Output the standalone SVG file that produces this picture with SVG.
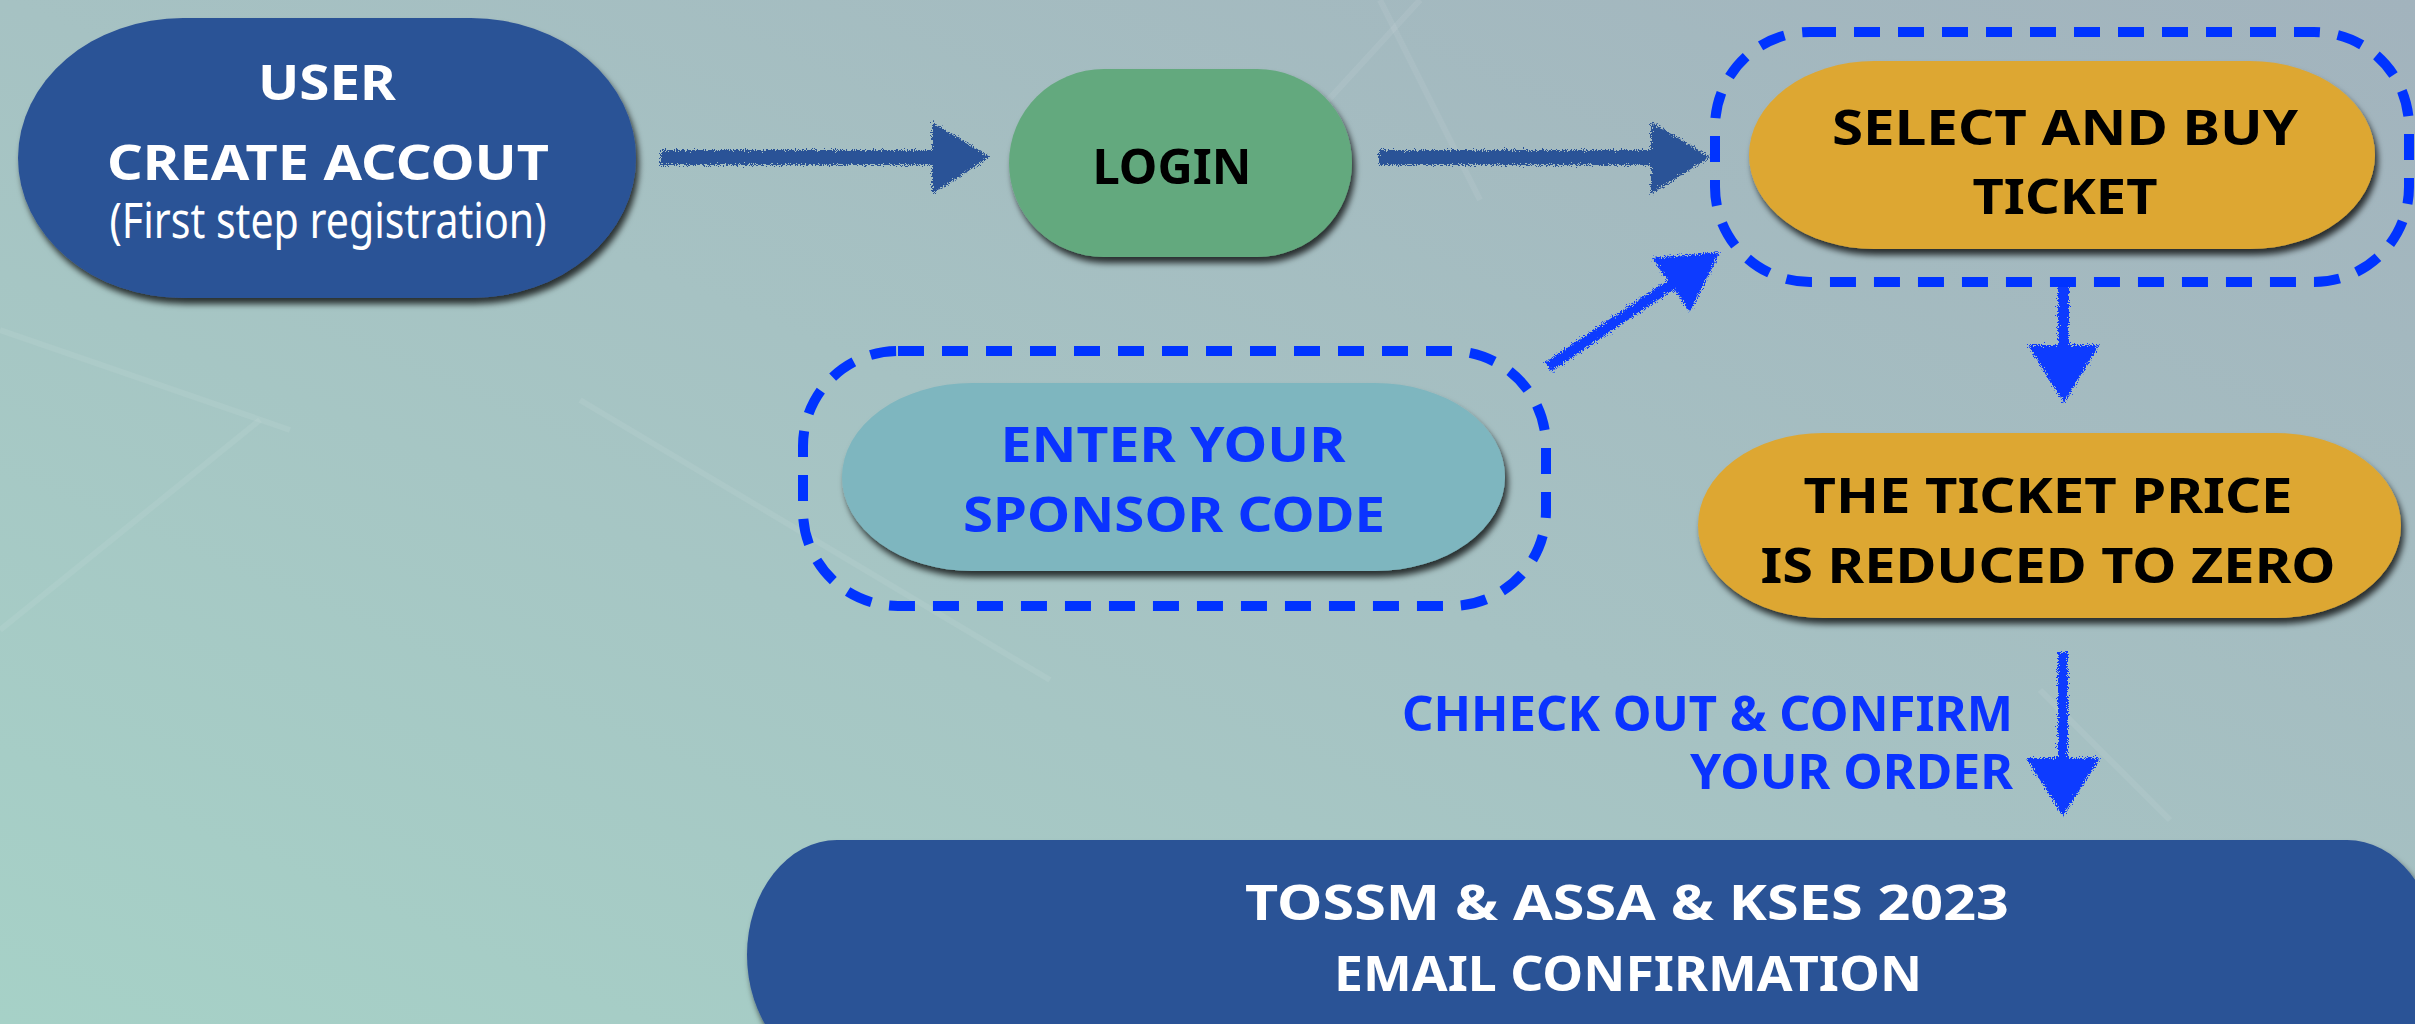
<svg xmlns="http://www.w3.org/2000/svg" width="2415" height="1024" viewBox="0 0 2415 1024">
<defs>
  <linearGradient id="bg" x1="0" y1="1" x2="1" y2="0">
    <stop offset="0" stop-color="#A6D1C7"/>
    <stop offset="0.5" stop-color="#A6C2C3"/>
    <stop offset="1" stop-color="#A2B3BD"/>
  </linearGradient>
  <filter id="shadow" x="-10%" y="-10%" width="125%" height="130%">
    <feDropShadow dx="3" dy="6" stdDeviation="3" flood-color="#000" flood-opacity="0.75"/>
  </filter>
  <filter id="rough" x="-20%" y="-20%" width="140%" height="140%">
    <feTurbulence type="fractalNoise" baseFrequency="0.9" numOctaves="2" seed="3" result="n"/>
    <feDisplacementMap in="SourceGraphic" in2="n" scale="9" xChannelSelector="R" yChannelSelector="G"/>
  </filter>
  <style>
    .t{font-family:"Noto Sans","DejaVu Sans",sans-serif;font-weight:700;text-anchor:middle;font-size:49px}
    .w{fill:#FFFFFF}
    .k{fill:#000000}
    .b{fill:#0A33FF}
    .dash{fill:none;stroke:#0033FF;stroke-width:10;stroke-dasharray:26 18}
    .a1{fill:#2A5297}
    .a2{fill:#0A3BFF}
    .bgl{stroke:#FFFFFF;stroke-opacity:0.07;stroke-width:6}
  </style>
</defs>

<rect x="0" y="0" width="2415" height="1024" fill="url(#bg)"/>
<g id="background-lines">
  <line class="bgl" x1="0" y1="330" x2="290" y2="430"/>
  <line class="bgl" x1="580" y1="400" x2="1050" y2="680"/>
  <line class="bgl" x1="1380" y1="0" x2="1480" y2="200"/>
  <line class="bgl" x1="1420" y1="0" x2="1310" y2="120"/>
  <line class="bgl" x1="2040" y1="690" x2="2170" y2="820"/>
  <line class="bgl" x1="0" y1="630" x2="260" y2="420"/>
</g>

<g id="connectors">
  <g filter="url(#rough)">
    <rect class="a1" x="660" y="150" width="276" height="15"/>
    <polygon class="a1" points="932,122 990,157 932,194"/>
    <rect class="a1" x="1379" y="150" width="276" height="15"/>
    <polygon class="a1" points="1651,122 1710,157 1651,194"/>
    <line x1="1548" y1="367" x2="1672" y2="284" stroke="#0A3BFF" stroke-width="11"/>
    <polygon class="a2" points="1720,252 1652,258 1690,312"/>
    <rect class="a2" x="2058" y="282" width="11" height="66"/>
    <polygon class="a2" points="2028,345 2099,345 2064,403"/>
    <rect class="a2" x="2058" y="652" width="10" height="108"/>
    <polygon class="a2" points="2026,758 2100,758 2063,816"/>
  </g>
  <g id="label-checkout">
    <text class="t b" style="text-anchor:end" font-size="43" x="2013" y="731" textLength="611" lengthAdjust="spacingAndGlyphs">CHHECK OUT &amp; CONFIRM</text>
    <text class="t b" style="text-anchor:end" font-size="43" x="2013" y="789" textLength="323" lengthAdjust="spacingAndGlyphs">YOUR ORDER</text>
  </g>
</g>

<g id="node-user">
  <rect x="18" y="18" width="618" height="280" rx="165" ry="140" fill="#2B5296" filter="url(#shadow)"/>
  <text class="t w" x="327" y="100" textLength="138" lengthAdjust="spacingAndGlyphs">USER</text>
  <text class="t w" x="328" y="180" textLength="442" lengthAdjust="spacingAndGlyphs">CREATE ACCOUT</text>
  <text class="t w" style="font-weight:400" font-size="36" x="328" y="238" textLength="437" lengthAdjust="spacingAndGlyphs">(First step registration)</text>
</g>

<g id="node-login">
  <rect x="1009" y="69" width="343" height="188" rx="95" ry="94" fill="#64A97E" filter="url(#shadow)"/>
  <text class="t k" x="1172" y="184" textLength="159" lengthAdjust="spacingAndGlyphs">LOGIN</text>
</g>

<g id="node-select">
  <rect class="dash" x="1715" y="32" width="694" height="250" rx="95" ry="95"/>
  <rect x="1749" y="61" width="626" height="188" rx="125" ry="94" fill="#DDA733" filter="url(#shadow)"/>
  <text class="t k" x="2065" y="145" textLength="466" lengthAdjust="spacingAndGlyphs">SELECT AND BUY</text>
  <text class="t k" x="2065" y="214" textLength="185" lengthAdjust="spacingAndGlyphs">TICKET</text>
</g>

<g id="node-sponsor">
  <rect class="dash" x="803" y="351" width="743" height="255" rx="95" ry="95"/>
  <rect x="842" y="383" width="663" height="188" rx="130" ry="94" fill="#7EB6BF" filter="url(#shadow)"/>
  <text class="t b" x="1173" y="462" textLength="345" lengthAdjust="spacingAndGlyphs">ENTER YOUR</text>
  <text class="t b" x="1174" y="532" textLength="422" lengthAdjust="spacingAndGlyphs">SPONSOR CODE</text>
</g>

<g id="node-price">
  <rect x="1698" y="433" width="703" height="185" rx="125" ry="93" fill="#DDA733" filter="url(#shadow)"/>
  <text class="t k" x="2048" y="513" textLength="489" lengthAdjust="spacingAndGlyphs">THE TICKET PRICE</text>
  <text class="t k" x="2048" y="583" textLength="575" lengthAdjust="spacingAndGlyphs">IS REDUCED TO ZERO</text>
</g>

<g id="node-email">
  <rect x="747" y="840" width="1690" height="230" rx="90" ry="120" fill="#2B5296" filter="url(#shadow)"/>
  <text class="t w" x="1627" y="920" textLength="764" lengthAdjust="spacingAndGlyphs">TOSSM &amp; ASSA &amp; KSES 2023</text>
  <text class="t w" x="1628" y="991" textLength="588" lengthAdjust="spacingAndGlyphs">EMAIL CONFIRMATION</text>
</g>
</svg>
